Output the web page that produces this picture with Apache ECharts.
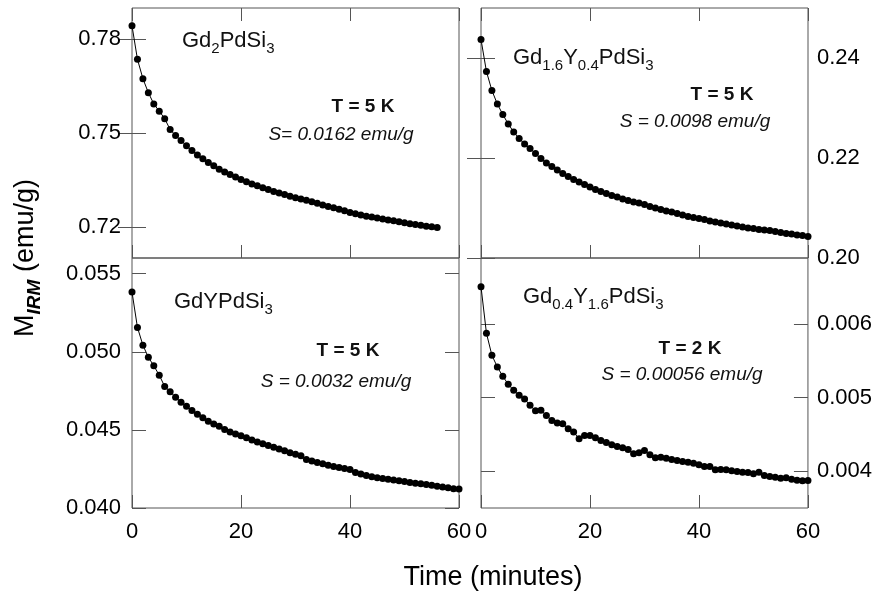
<!DOCTYPE html>
<html><head><meta charset="utf-8">
<script src="https://cdn.jsdelivr.net/npm/echarts@6/dist/echarts.min.js"></script>
<style>html,body{margin:0;padding:0;background:#fff}#c{width:875px;height:605px}</style>
</head><body><div id="c"></div>
<script>
// ---- data ----
const timeA = [0,1,2,3,4,5,6,7,8,9,10,11,12,13,14,15,16,17,18,19,20,21,22,23,24,25,26,27,28,29,30,31,32,33,34,35,36,37,38,39,40,41,42,43,44,45,46,47,48,49,50,51,52,53,54,55,56];
const timeB = [0,1,2,3,4,5,6,7,8,9,10,11,12,13,14,15,16,17,18,19,20,21,22,23,24,25,26,27,28,29,30,31,32,33,34,35,36,37,38,39,40,41,42,43,44,45,46,47,48,49,50,51,52,53,54,55,56,57,58,59,60];

const mGd2 = [0.7843,0.7736,0.7674,0.7629,0.7593,0.7570,0.7546,0.7511,0.7492,0.7476,0.7459,0.7444,0.7430,0.7418,0.7406,0.7395,0.7384,0.7375,0.7367,0.7359,0.7351,0.7344,0.7337,0.7331,0.7325,0.7319,0.7313,0.7308,0.7303,0.7298,0.7293,0.7289,0.7285,0.7280,0.7275,0.7270,0.7265,0.7261,0.7256,0.7251,0.7246,0.7242,0.7238,0.7234,0.7231,0.7228,0.7225,0.7222,0.7219,0.7216,0.7213,0.7210,0.7207,0.7205,0.7202,0.7200,0.7198];

const mGd16 = [0.2437,0.2373,0.2335,0.2308,0.2287,0.2268,0.2252,0.2239,0.2228,0.2219,0.2209,0.2199,0.2190,0.2183,0.2176,0.2169,0.2163,0.2157,0.2152,0.2147,0.2142,0.2137,0.2133,0.2129,0.2125,0.2122,0.2118,0.2115,0.2112,0.2110,0.2107,0.2103,0.2100,0.2097,0.2094,0.2092,0.2089,0.2086,0.2083,0.2081,0.2079,0.2077,0.2074,0.2072,0.2070,0.2068,0.2066,0.2064,0.2062,0.2060,0.2059,0.2057,0.2056,0.2055,0.2053,0.2051,0.2049,0.2048,0.2046,0.2045,0.2043];

const mGdY = [0.05382,0.05156,0.05042,0.04965,0.04910,0.04850,0.04778,0.04744,0.04709,0.04677,0.04651,0.04624,0.04600,0.04577,0.04555,0.04538,0.04523,0.04503,0.04487,0.04474,0.04462,0.04449,0.04436,0.04423,0.04411,0.04400,0.04389,0.04377,0.04366,0.04354,0.04344,0.04334,0.04310,0.04301,0.04292,0.04283,0.04274,0.04266,0.04259,0.04253,0.04246,0.04228,0.04218,0.04208,0.04200,0.04194,0.04189,0.04184,0.04179,0.04174,0.04169,0.04164,0.04159,0.04155,0.04150,0.04145,0.04140,0.04134,0.04129,0.04124,0.04121];

const mGd04 = [0.006509,0.005877,0.005577,0.005418,0.005291,0.005182,0.005100,0.005032,0.004982,0.004896,0.004823,0.004828,0.004759,0.004691,0.004655,0.004646,0.004578,0.004532,0.004442,0.004487,0.004487,0.004455,0.004419,0.004391,0.004360,0.004337,0.004319,0.004296,0.004237,0.004251,0.004282,0.004223,0.004183,0.004191,0.004177,0.004160,0.004146,0.004132,0.004123,0.004109,0.004087,0.004064,0.004064,0.004019,0.004023,0.004019,0.004005,0.003996,0.003986,0.003982,0.003965,0.003986,0.003941,0.003928,0.003918,0.003905,0.003910,0.003891,0.003877,0.003869,0.003873];

const xTicks = [0, 20, 40, 60];
const yTicksTL = [0.72, 0.75, 0.78];
const yTicksTR = [0.20, 0.22, 0.24];
const yTicksBL = [0.040, 0.045, 0.050, 0.055];
const yTicksBR = [0.004, 0.005, 0.006];

// ---- layout ----
const FONT = 'Liberation Sans, Arial, sans-serif';
const AX = '#555';
const panels = [
  {left:132, top:8,   min:0.710,  max:0.790,  ticks:yTicksTL, dec:2, labelSide:'left',  xLabels:false, t:timeA, v:mGd2},
  {left:481, top:8,   min:0.200,  max:0.250,  ticks:yTicksTR, dec:2, labelSide:'right', xLabels:false, t:timeB, v:mGd16},
  {left:132, top:258, min:0.040,  max:0.056,  ticks:yTicksBL, dec:3, labelSide:'left',  xLabels:true,  t:timeB, v:mGdY},
  {left:481, top:258, min:0.0035, max:0.0069, ticks:yTicksBR, dec:3, labelSide:'right', xLabels:true,  t:timeB, v:mGd04}
];
const W = 327, H = 250;

const grid = [], xAxis = [], yAxis = [], series = [];
panels.forEach((p, i) => {
  grid.push({left:p.left, top:p.top, width:W, height:H, show:true, borderColor:AX, borderWidth:1, backgroundColor:'transparent'});
  const xBase = {type:'value', gridIndex:i, min:0, max:60, interval:20,
    axisLine:{show:false}, splitLine:{show:false},
    axisTick:{show:true, inside:true, length:13, lineStyle:{color:AX, width:1}}};
  xAxis.push(Object.assign({}, xBase, {position:'bottom',
    axisLabel:{show:p.xLabels, color:'#000', fontSize:22, fontFamily:FONT, margin:13,
      showMinLabel:true, showMaxLabel:true, customValues: xTicks}}));
  if (!p.xLabels) {
    xAxis.push(Object.assign({}, xBase, {position:'top', axisLabel:{show:false}}));
  }
  const yBase = {type:'value', gridIndex:i, min:p.min, max:p.max,
    axisLine:{show:false}, splitLine:{show:false},
    axisTick:{show:true, inside:true, length:14, customValues:p.ticks, lineStyle:{color:AX, width:1}}};
  const fmt = v => v.toFixed(p.dec);
  yAxis.push(Object.assign({}, yBase, {position:'left',
    axisLabel:{show:p.labelSide==='left', customValues:p.ticks, formatter:fmt, color:'#000', fontSize:22, fontFamily:FONT, margin:11}}));
  yAxis.push(Object.assign({}, yBase, {position:'right',
    axisLabel:{show:p.labelSide==='right', customValues:p.ticks, formatter:fmt, color:'#000', fontSize:22, fontFamily:FONT, margin:9}}));
});

let xi = 0;
panels.forEach((p, i) => {
  series.push({type:'line', xAxisIndex:xi, yAxisIndex:i*2,
    data:p.t.map((t, k) => [t, p.v[k]]),
    symbol:'circle', symbolSize:7, showSymbol:true,
    itemStyle:{color:'#000'}, lineStyle:{color:'#000', width:1}, silent:true});
  xi += p.xLabels ? 1 : 2;
});

const mainRich = {
  m:{fontSize:22, fontFamily:FONT, fill:'#111'},
  s:{fontSize:15, fontFamily:FONT, fill:'#111', padding:[16,0,0,0]}
};
function txt(x, y, text, opts) {
  return Object.assign({type:'text', x:x, y:y, silent:true,
    style:Object.assign({text:text, fill:'#111', fontFamily:FONT, textAlign:'center', textVerticalAlign:'middle'}, opts || {})});
}
const graphic = [
  txt(182, 41, '{m|Gd}{s|2}{m|PdSi}{s|3}', {textAlign:'left', rich:mainRich}),
  txt(513, 58, '{m|Gd}{s|1.6}{m|Y}{s|0.4}{m|PdSi}{s|3}', {textAlign:'left', rich:mainRich}),
  txt(174, 302, '{m|GdYPdSi}{s|3}', {textAlign:'left', rich:mainRich}),
  txt(523, 297, '{m|Gd}{s|0.4}{m|Y}{s|1.6}{m|PdSi}{s|3}', {textAlign:'left', rich:mainRich}),
  txt(363, 107, 'T = 5 K', {fontSize:19, fontWeight:'bold'}),
  txt(341, 135, 'S= 0.0162 emu/g', {fontSize:19, fontStyle:'italic'}),
  txt(722, 95, 'T = 5 K', {fontSize:19, fontWeight:'bold'}),
  txt(695, 122, 'S = 0.0098 emu/g', {fontSize:19, fontStyle:'italic'}),
  txt(348, 351, 'T = 5 K', {fontSize:19, fontWeight:'bold'}),
  txt(336, 382, 'S = 0.0032 emu/g', {fontSize:19, fontStyle:'italic'}),
  txt(690, 349, 'T = 2 K', {fontSize:19, fontWeight:'bold'}),
  txt(682, 375, 'S = 0.00056 emu/g', {fontSize:19, fontStyle:'italic'}),
  txt(493, 578, 'Time (minutes)', {fontSize:27, fill:'#000'}),
  Object.assign(txt(26, 258, '{a|M}{b|IRM}{a| (emu/g)}', {fill:'#000', rich:{
    a:{fontSize:27, fontFamily:FONT, fill:'#000'},
    b:{fontSize:19, fontFamily:FONT, fill:'#000', fontWeight:'bold', fontStyle:'italic', padding:[18,0,0,0]}
  }}), {rotation:Math.PI/2})
];

const chart = echarts.init(document.getElementById('c'), null, {renderer:'canvas'});
chart.setOption({animation:false, backgroundColor:'#fff', grid, xAxis, yAxis, series, graphic});
</script></body></html>
